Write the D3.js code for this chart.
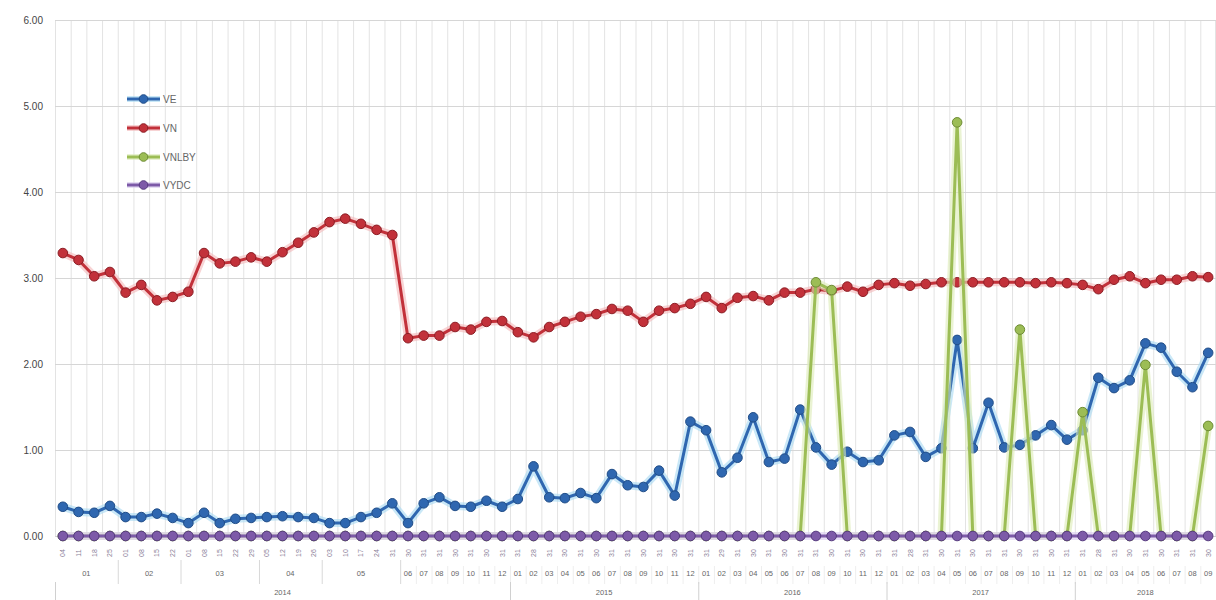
<!DOCTYPE html>
<html>
<head>
<meta charset="utf-8">
<script src="https://cdn.jsdelivr.net/npm/d3@7"></script>
<style>
  html, body { margin: 0; padding: 0; background: #fff; }
  svg { display: block; font-family: "Liberation Sans", Arial, sans-serif; }
</style>
</head>
<body>
<svg id="chart" width="1216" height="600"></svg>
<script>
// ---- data ----
const dayLabels = [
  "04","11","18","25","01","08","15","22","01","08","15","22","29","05","12","19","26","03","10","17","24","31",
  "30","31","31","30","31","30","31",
  "31","28","31","30","31","30","31","31","30","31","30","31",
  "31","29","31","30","31","30","31","31","30","31","30","31",
  "31","28","31","30","31","30","31","31","30","31","30","31",
  "31","28","31","30","31","30","31","31","30"
];
const monthLabels = [
  "01","01","01","01","02","02","02","02","03","03","03","03","03","04","04","04","04","05","05","05","05","05",
  "06","07","08","09","10","11","12",
  "01","02","03","04","05","06","07","08","09","10","11","12",
  "01","02","03","04","05","06","07","08","09","10","11","12",
  "01","02","03","04","05","06","07","08","09","10","11","12",
  "01","02","03","04","05","06","07","08","09"
];
const yearLabels = [
  "2014","2014","2014","2014","2014","2014","2014","2014","2014","2014","2014","2014","2014","2014","2014","2014",
  "2014","2014","2014","2014","2014","2014","2014","2014","2014","2014","2014","2014","2014",
  "2015","2015","2015","2015","2015","2015","2015","2015","2015","2015","2015","2015",
  "2016","2016","2016","2016","2016","2016","2016","2016","2016","2016","2016","2016",
  "2017","2017","2017","2017","2017","2017","2017","2017","2017","2017","2017","2017",
  "2018","2018","2018","2018","2018","2018","2018","2018","2018"
];
const weeklyCount = 22; // first points are weekly, grouped by month
const yTicks = [0, 1, 2, 3, 4, 5, 6];

const seriesNames = ["VE", "VN", "VNLBY", "VYDC"];
const VE = [
  0.34,0.28,0.27,0.35,0.22,0.22,0.26,0.21,0.15,0.27,0.15,0.20,0.21,0.22,0.23,0.22,0.21,0.15,0.15,0.22,0.27,0.38,
  0.15,0.38,0.45,0.35,0.34,0.41,0.34,
  0.43,0.81,0.45,0.44,0.50,0.44,0.72,0.59,0.57,0.76,0.47,1.33,
  1.23,0.74,0.91,1.38,0.86,0.90,1.47,1.03,0.83,0.98,0.86,0.88,
  1.17,1.21,0.92,1.02,2.28,1.02,1.55,1.03,1.06,1.17,1.29,1.12,
  1.23,1.84,1.72,1.81,2.24,2.19,1.91,1.73,2.13
];
const VN = [
  3.29,3.21,3.02,3.07,2.83,2.92,2.74,2.78,2.84,3.29,3.17,3.19,3.24,3.19,3.30,3.41,3.53,3.65,3.69,3.63,3.56,3.50,
  2.30,2.33,2.33,2.43,2.40,2.49,2.50,
  2.37,2.31,2.43,2.49,2.55,2.58,2.64,2.62,2.49,2.62,2.65,2.70,
  2.78,2.65,2.77,2.79,2.74,2.83,2.83,2.87,2.85,2.90,2.84,2.92,
  2.94,2.91,2.93,2.95,2.95,2.95,2.95,2.95,2.95,2.94,2.95,2.94,
  2.92,2.87,2.98,3.02,2.94,2.98,2.98,3.02,3.01
];
const VNLBY = [
  0,0,0,0,0,0,0,0,0,0,0,0,0,0,0,0,0,0,0,0,0,0,
  0,0,0,0,0,0,0,
  0,0,0,0,0,0,0,0,0,0,0,0,
  0,0,0,0,0,0,0,2.95,2.86,0,0,0,
  0,0,0,0,4.81,0,0,0,2.40,0,0,0,
  1.44,0,0,0,1.99,0,0,0,1.28
];
const VYDC = [
  0,0,0,0,0,0,0,0,0,0,0,0,0,0,0,0,0,0,0,0,0,0,
  0,0,0,0,0,0,0,
  0,0,0,0,0,0,0,0,0,0,0,0,
  0,0,0,0,0,0,0,0,0,0,0,0,
  0,0,0,0,0,0,0,0,0,0,0,0,
  0,0,0,0,0,0,0,0,0
];

const seriesValues = [VE, VN, VNLBY, VYDC];
const lineColors   = ["#2f67b0", "#c2313a", "#9cbd55", "#7d5aa8"];
const markerStroke = ["#214d87", "#8c1e25", "#6e8c35", "#553a7e"];
const glowColors   = ["#a6d9f2", "#f3b7b9", "#dcebb6", "#d8c9ee"];

// ---- layout ----
const svg = d3.select("#chart");
const pLeft = 55, pRight = 1216, pTop = 20, pBottom = 536;
const N = VE.length;

const x = d3.scaleBand().domain(d3.range(N)).range([pLeft, pRight]).padding(0);
const cx = i => x(i) + x.bandwidth() / 2;
const y = d3.scaleLinear().domain([0, 6]).range([pBottom, pTop]);

// vertical gridlines at band boundaries
svg.append("g").selectAll("line")
  .data(d3.range(N + 1))
  .join("line")
  .attr("x1", i => i < N ? x(i) + 0.5 : pRight - 0.5)
  .attr("x2", i => i < N ? x(i) + 0.5 : pRight - 0.5)
  .attr("y1", pTop).attr("y2", pBottom)
  .attr("stroke", "#e3e3e3").attr("stroke-width", 1);

// y axis with horizontal gridlines
const yAxis = svg.append("g")
  .attr("transform", `translate(${pLeft},0)`)
  .call(d3.axisLeft(y).tickValues(yTicks).tickFormat(d3.format(".2f"))
        .tickSize(-(pRight - pLeft)).tickPadding(12));
yAxis.select(".domain").remove();
yAxis.selectAll(".tick line").attr("stroke", "#d6d6d6");
yAxis.selectAll(".tick text").attr("fill", "#444").style("font-size", "10px");

// x axis row 1 (rotated day labels)
const xAxis = svg.append("g")
  .attr("transform", `translate(0,${pBottom})`)
  .call(d3.axisBottom(x).tickFormat(i => dayLabels[i]).tickSize(0).tickPadding(0));
xAxis.select(".domain").attr("stroke", "#cfcfcf");
xAxis.selectAll(".tick text")
  .attr("fill", "#8a7f98")
  .style("font-size", "7px")
  .attr("text-anchor", "middle")
  .attr("dominant-baseline", "central")
  .attr("y", 0).attr("dy", null)
  .attr("transform", "translate(0,17) rotate(-90)");

// helper: group consecutive indices by key
function groups(keyFn) {
  const out = [];
  for (let i = 0; i < N; i++) {
    const k = keyFn(i);
    if (out.length && out[out.length - 1].key === k) out[out.length - 1].end = i;
    else out.push({ key: k, start: i, end: i });
  }
  return out;
}
const monthGroups = groups(i => yearLabels[i] + "-" + monthLabels[i] + "-" + (i < weeklyCount ? "w" : i));
const yearGroups = groups(i => yearLabels[i]);

// row 2: month labels
const row2 = svg.append("g");
row2.selectAll("text")
  .data(monthGroups)
  .join("text")
  .attr("x", g => (x(g.start) + x(g.end) + x.bandwidth()) / 2)
  .attr("y", 576)
  .attr("text-anchor", "middle")
  .attr("fill", "#666")
  .style("font-size", "7.5px")
  .text(g => monthLabels[g.start]);
row2.selectAll("line")
  .data(monthGroups.slice(1))
  .join("line")
  .attr("x1", g => x(g.start) + 0.5).attr("x2", g => x(g.start) + 0.5)
  .attr("y1", g => g.start <= weeklyCount ? 560 : 566).attr("y2", 584)
  .attr("stroke", g => g.start <= weeklyCount ? "#d8d8d8" : "#eeeeee");

// row 3: year labels
const row3 = svg.append("g");
row3.selectAll("text")
  .data(yearGroups)
  .join("text")
  .attr("x", g => (x(g.start) + x(g.end) + x.bandwidth()) / 2)
  .attr("y", 595)
  .attr("text-anchor", "middle")
  .attr("fill", "#666")
  .style("font-size", "7.5px")
  .text(g => g.key);
row3.selectAll("line")
  .data(yearGroups)
  .join("line")
  .attr("x1", g => x(g.start) + 0.5).attr("x2", g => x(g.start) + 0.5)
  .attr("y1", 582).attr("y2", 600)
  .attr("stroke", "#d0d0d0");

// ---- series ----
const line = d3.line().x((d, i) => cx(i)).y(d => y(d));
const plot = svg.append("g");
seriesValues.forEach((vals, s) => {
  const g = plot.append("g");
  g.append("path").datum(vals).attr("d", line)
    .attr("fill", "none").attr("stroke", glowColors[s]).attr("stroke-width", 8)
    .attr("stroke-linejoin", "round").attr("opacity", 0.6);
  g.append("path").datum(vals).attr("d", line)
    .attr("fill", "none").attr("stroke", lineColors[s]).attr("stroke-width", 3)
    .attr("stroke-linejoin", "round");
  g.selectAll("circle").data(vals).join("circle")
    .attr("cx", (d, i) => cx(i)).attr("cy", d => y(d)).attr("r", 4.8)
    .attr("fill", lineColors[s]).attr("stroke", markerStroke[s]).attr("stroke-width", 1);
});

// ---- legend ----
const legend = svg.append("g");
const legY = [99, 128, 157, 185];
seriesNames.forEach((name, s) => {
  const g = legend.append("g").attr("transform", `translate(127,${legY[s]})`);
  g.append("line").attr("x1", 0).attr("x2", 33).attr("y1", 0).attr("y2", 0)
    .attr("stroke", glowColors[s]).attr("stroke-width", 6).attr("opacity", 0.6);
  g.append("line").attr("x1", 0).attr("x2", 33).attr("y1", 0).attr("y2", 0)
    .attr("stroke", lineColors[s]).attr("stroke-width", 3);
  g.append("circle").attr("cx", 16.5).attr("cy", 0).attr("r", 4.3)
    .attr("fill", lineColors[s]).attr("stroke", markerStroke[s]);
  g.append("text").attr("x", 36).attr("y", 0).attr("dy", "0.35em")
    .attr("fill", "#666").style("font-size", "10px").text(name);
});
</script>
</body>
</html>
